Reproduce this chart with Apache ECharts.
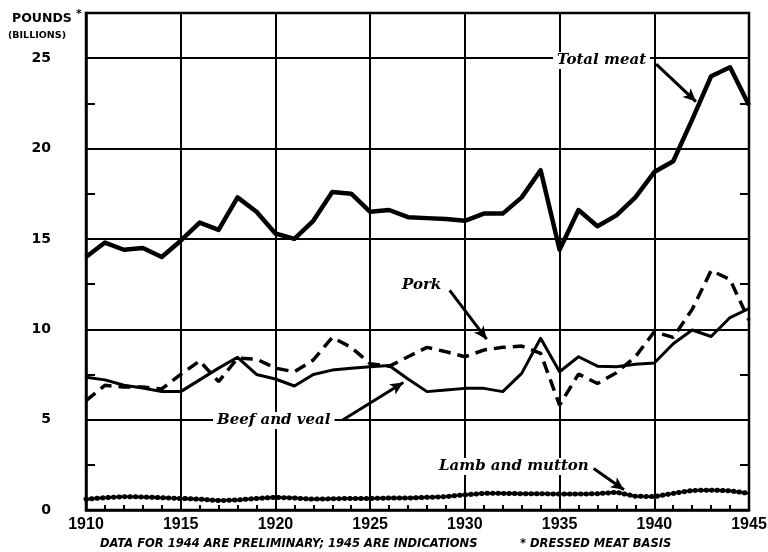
<!DOCTYPE html>
<html>
<head>
<meta charset="utf-8">
<script src="https://cdn.jsdelivr.net/npm/echarts@6/dist/echarts.min.js"></script>
<style>
html,body{margin:0;padding:0;background:#fff;}
#chart{width:768px;height:552px;}
</style>
</head>
<body>
<div id="chart"></div>
<script>
// ---- data (billions of pounds, dressed meat basis) ----
const years = [1910,1911,1912,1913,1914,1915,1916,1917,1918,1919,1920,1921,1922,1923,1924,1925,1926,1927,1928,1929,1930,1931,1932,1933,1934,1935,1936,1937,1938,1939,1940,1941,1942,1943,1944,1945];
const totalMeat = [14.0,14.8,14.4,14.5,14.0,14.9,15.9,15.5,17.3,16.5,15.3,15.0,16.0,17.6,17.5,16.5,16.6,16.2,16.15,16.1,16.0,16.4,16.4,17.3,18.8,14.4,16.6,15.7,16.3,17.3,18.7,19.3,21.6,24.0,24.5,22.4];
const beefVeal  = [7.34,7.2,6.9,6.75,6.55,6.55,7.2,7.85,8.45,7.5,7.25,6.86,7.5,7.74,7.84,7.93,8.0,7.25,6.55,6.64,6.73,6.73,6.55,7.56,9.5,7.65,8.48,7.96,7.93,8.07,8.13,9.2,9.96,9.6,10.65,11.15];
const pork      = [6.05,6.9,6.8,6.8,6.7,7.5,8.25,7.1,8.4,8.35,7.85,7.65,8.3,9.55,9.0,8.1,7.95,8.48,9.0,8.76,8.48,8.85,9.0,9.07,8.67,5.8,7.52,7.0,7.6,8.48,9.86,9.55,11.1,13.25,12.75,10.5];
const lambMutton= [0.60,0.68,0.74,0.72,0.68,0.64,0.60,0.52,0.56,0.64,0.70,0.66,0.60,0.62,0.64,0.64,0.66,0.66,0.70,0.74,0.84,0.92,0.92,0.90,0.90,0.88,0.88,0.90,0.98,0.76,0.74,0.92,1.08,1.10,1.06,0.92];
const yTicks = [0,5,10,15,20,25];
const xTicks = [1910,1915,1920,1925,1930,1935,1940,1945];

const pairs = arr => years.map((y,i)=>[y,arr[i]]);

const chart = echarts.init(document.getElementById('chart'), null, {renderer:'canvas'});
const numFont = {fontFamily:'DejaVu Sans', fontWeight:'bold', color:'#000'};
const annFont = 'bold italic 15px "DejaVu Serif"';

const arrowLine = (from,to) => [{coord:from},{coord:to}];

const option = {
  animation:false,
  backgroundColor:'#fff',
  grid:{left:86,right:19,top:13,bottom:42,outerBoundsMode:'none',containLabel:false,
        show:true,borderColor:'#000',borderWidth:2.5,backgroundColor:'transparent'},
  xAxis:{
    type:'value',min:1910,max:1945,interval:5,
    axisLine:{show:true,lineStyle:{color:'#000',width:2.5}},
    axisTick:{show:true,inside:true,length:6,lineStyle:{color:'#000',width:2}},
    minorTick:{show:true,splitNumber:5,length:5,lineStyle:{color:'#000',width:2}},
    splitLine:{show:true,lineStyle:{color:'#000',width:2}},
    axisLabel:{fontSize:16,margin:7,hideOverlap:false,fontFamily:'Liberation Sans',fontWeight:'bold',color:'#000',
               formatter:v=>xTicks.includes(v)?String(v):''}
  },
  yAxis:[
    {type:'value',min:0,max:27.5,interval:5,position:'left',
     axisLine:{show:true,lineStyle:{color:'#000',width:2.5}},
     axisTick:{show:false},
     splitLine:{show:true,lineStyle:{color:'#000',width:2}},
     axisLabel:Object.assign({fontSize:14,margin:35,formatter:v=>yTicks.includes(v)?String(v):''},numFont)},
    {type:'value',min:0,max:27.5,interval:2.5,position:'left',
     axisLine:{show:false},axisTick:{show:true,inside:true,length:9,lineStyle:{color:'#000',width:2}},
     splitLine:{show:false},axisLabel:{show:false}},
    {type:'value',min:0,max:27.5,interval:2.5,position:'right',
     axisLine:{show:false},axisTick:{show:true,inside:true,length:9,lineStyle:{color:'#000',width:2}},
     splitLine:{show:false},axisLabel:{show:false}}
  ],
  series:[
    {name:'Total meat',type:'line',data:pairs(totalMeat),showSymbol:false,
     lineStyle:{color:'#000',width:4.5,join:'round'},z:5,
     markLine:{silent:true,symbol:['none','arrow'],symbolSize:[9,13],label:{show:false},
       lineStyle:{color:'#000',width:3,type:'solid'},
       data:[arrowLine([1940.1,24.67],[1942.2,22.6]),
             arrowLine([1929.2,12.15],[1931.15,9.45]),
             arrowLine([1923.55,4.98],[1926.75,7.05]),
             arrowLine([1936.8,2.3],[1938.4,1.12])]}},
    {name:'Pork',type:'line',data:pairs(pork),showSymbol:false,
     lineStyle:{color:'#000',width:3.5,type:[12,7]},z:4},
    {name:'Beef and veal',type:'line',data:pairs(beefVeal),showSymbol:false,
     lineStyle:{color:'#000',width:3,join:'round'},z:4},
    {name:'Lamb and mutton',type:'line',data:pairs(lambMutton),showSymbol:false,
     lineStyle:{color:'#000',width:2.5},z:4},
    {name:'Lamb and mutton beads',type:'line',data:pairs(lambMutton),showSymbol:false,
     lineStyle:{color:'#000',width:5,type:[0.5,5],cap:'round'},z:4}
  ],
  graphic:[
    {type:'text',left:12,top:12,style:{text:'POUNDS',font:'bold 12.5px "DejaVu Sans"',fill:'#000'}},
    {type:'text',left:76,top:9,style:{text:'*',font:'bold 11px "DejaVu Sans"',fill:'#000'}},
    {type:'text',left:8,top:31,style:{text:'(BILLIONS)',font:'bold 9.5px "DejaVu Sans"',fill:'#000'}},
    {type:'text',left:553,top:52,z:10,style:{text:'Total meat',font:annFont,fill:'#000',backgroundColor:'#fff',padding:[1,4]}},
    {type:'text',left:399,top:277,z:10,style:{text:'Pork',font:annFont,fill:'#000',backgroundColor:'#fff',padding:[1,3]}},
    {type:'text',left:213,top:412,z:10,style:{text:'Beef and veal',font:annFont,fill:'#000',backgroundColor:'#fff',padding:[1,4]}},
    {type:'text',left:435,top:458,z:10,style:{text:'Lamb and mutton',font:annFont,fill:'#000',backgroundColor:'#fff',padding:[1,4]}},
    {type:'text',left:100,top:538,style:{text:'DATA FOR 1944 ARE PRELIMINARY; 1945 ARE INDICATIONS',font:'italic bold 11.5px "DejaVu Sans"',fill:'#000'}},
    {type:'text',left:520,top:538,style:{text:'* DRESSED MEAT BASIS',font:'italic bold 11.5px "DejaVu Sans"',fill:'#000'}}
  ]
};
chart.setOption(option);
</script>
</body>
</html>
